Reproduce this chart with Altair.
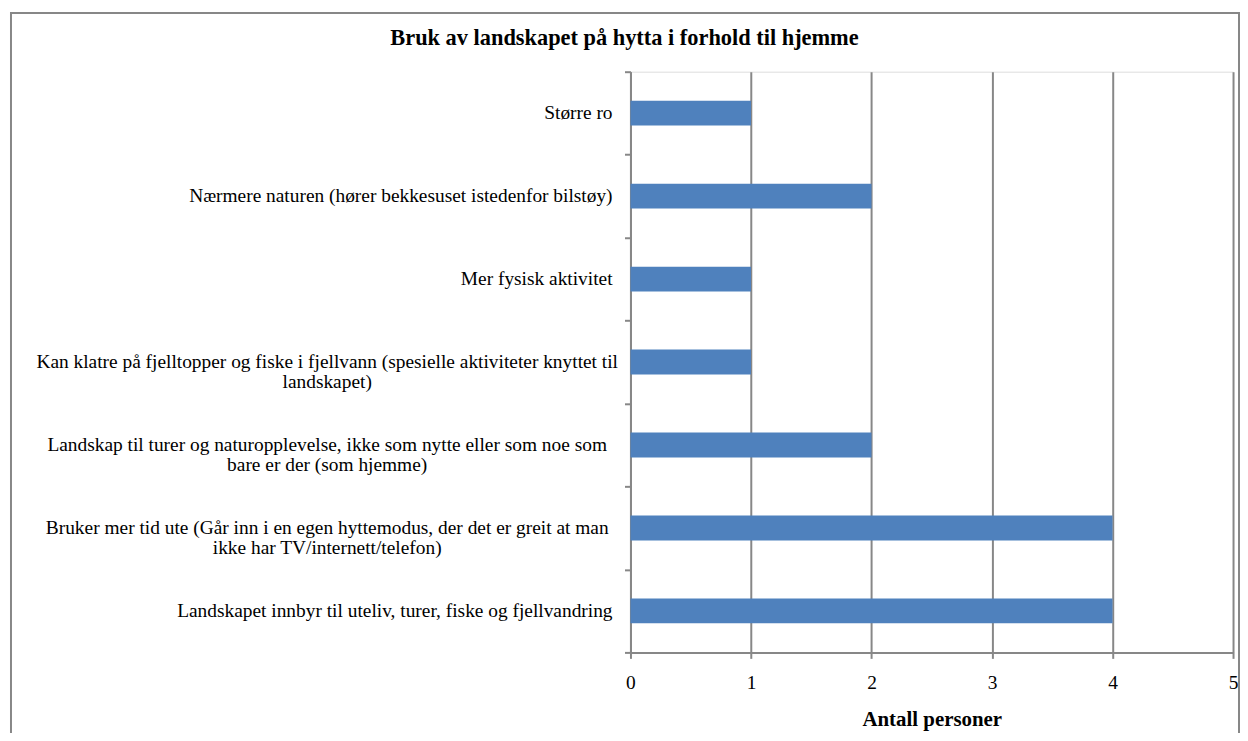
import altair as alt
import pandas as pd

categories = [
    "Større ro",
    "Nærmere naturen (hører bekkesuset istedenfor bilstøy)",
    "Mer fysisk aktivitet",
    "Kan klatre på fjelltopper og fiske i fjellvann (spesielle aktiviteter knyttet til\nlandskapet)",
    "Landskap til turer og naturopplevelse, ikke som nytte eller som noe som\nbare er der (som hjemme)",
    "Bruker mer tid ute (Går inn i en egen hyttemodus, der det er greit at man\nikke har TV/internett/telefon)",
    "Landskapet innbyr til uteliv, turer, fiske og fjellvandring",
]
counts = [1, 2, 1, 1, 2, 4, 4]
x_ticks = [0, 1, 2, 3, 4, 5]
title_text = "Bruk av landskapet på hytta i forhold til hjemme"
x_title = "Antall personer"

df = pd.DataFrame({"kategori": categories, "antall": counts})

FONT = "Liberation Serif"
GREY = "#878787"
BAR = "#4F81BD"
LABEL_SIZE = 19.5

y_enc = alt.Y(
    "kategori:N",
    sort=categories,
    scale=alt.Scale(domain=categories, paddingInner=0, paddingOuter=0),
    axis=alt.Axis(
        title=None,
        grid=False,
        labels=False,
        domainColor=GREY,
        domainWidth=2,
        tickColor=GREY,
        tickWidth=2,
        tickSize=6,
        tickBand="extent",
    ),
)

bars = alt.Chart(df).mark_bar(
    color=BAR, height=alt.RelativeBandSize(band=0.3)
).encode(
    x=alt.X(
        "antall:Q",
        scale=alt.Scale(domain=[0, 5], nice=False),
        axis=alt.Axis(
            values=x_ticks,
            title=x_title,
            grid=True,
            gridColor=GREY,
            gridWidth=2,
            domainColor=GREY,
            domainWidth=2,
            tickColor=GREY,
            tickWidth=2,
            tickSize=6,
            labelFont=FONT,
            labelFontSize=LABEL_SIZE,
            labelColor="black",
            labelPadding=15,
            labelFlush=False,
            titleFont=FONT,
            titleFontSize=21,
            titleFontWeight="bold",
            titleColor="black",
            titlePadding=17,
        ),
    ),
    y=y_enc,
)

single_labels = alt.Chart(df).transform_filter(
    "indexof(datum.kategori, '\\n') < 0"
).mark_text(
    font=FONT, fontSize=LABEL_SIZE, color="black", align="right", baseline="middle"
).encode(
    y=y_enc,
    x=alt.value(-18),
    text="kategori:N",
)

multi_labels = alt.Chart(df).transform_filter(
    "indexof(datum.kategori, '\\n') >= 0"
).mark_text(
    font=FONT, fontSize=LABEL_SIZE, color="black", align="center", baseline="middle",
    lineBreak="\n", lineHeight=20,
).encode(
    y=y_enc,
    x=alt.value(-305),
    text="kategori:N",
)

title_mark = alt.Chart(pd.DataFrame({"t": [title_text]})).mark_text(
    font=FONT, fontSize=22.5, fontWeight="bold", color="black",
    align="center", baseline="alphabetic",
).encode(
    x=alt.value(-6),
    y=alt.value(-27),
    text="t:N",
)

frame = alt.Chart(pd.DataFrame({"f": [0]})).mark_rect(
    fillOpacity=0, stroke=GREY, strokeWidth=2
).encode(
    x=alt.value(-623),
    x2=alt.value(612),
    y=alt.value(-59),
    y2=alt.value(720),
)

chart = alt.layer(frame, bars, single_labels, multi_labels, title_mark).properties(
    width=606,
    height=584,
    autosize=alt.AutoSizeParams(type="none"),
    padding={"left": 626, "top": 62, "right": 7, "bottom": 79},
).configure_view(stroke=None).configure(background="white")

chart.save("out.html", embed_options={"renderer": "svg", "actions": False})
